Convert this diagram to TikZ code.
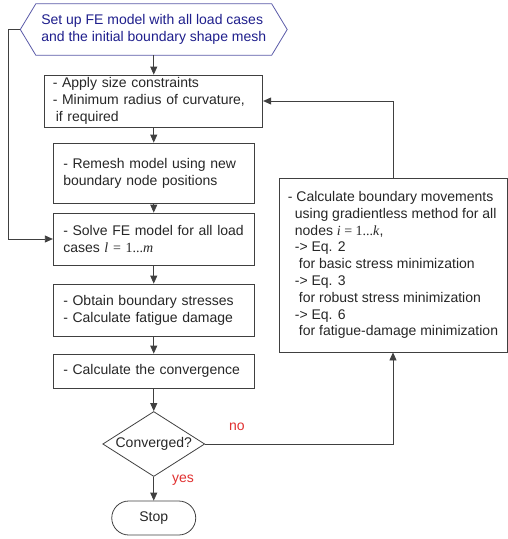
\documentclass[tikz,border=0pt]{standalone}
\usepackage{fontspec}
\setmainfont{Liberation Sans}
\newfontfamily\tnr{Liberation Serif}
\usetikzlibrary{shapes.geometric,arrows.meta}
\definecolor{lc}{HTML}{404040}
\definecolor{hexc}{HTML}{5A5AA8}
\definecolor{hext}{HTML}{1E1E8C}
\definecolor{redc}{HTML}{E03030}
\definecolor{txt}{HTML}{262626}
\begin{document}
\begin{tikzpicture}[x=1pt,y=-1pt,
  font=\fontsize{14}{16.8}\selectfont,
  box/.style={draw=lc, line width=0.8pt, align=left, inner xsep=10pt, inner ysep=0pt, text=txt},
  arr/.style={draw=lc, line width=0.8pt, -{Triangle[length=8pt,width=7pt]}},
  lbl/.style={text=redc, inner sep=0pt}]
\useasboundingbox (0,0) rectangle (508,539);

\node[align=left, text=hext, minimum width=266.5pt, minimum height=51pt, inner sep=0pt] (hex) at (153.75,29.5)
  {Set up FE model with all load cases\\and the initial boundary shape mesh};
\draw[draw=hexc, line width=0.8pt] (hex.west) -- ([xshift=15.5pt]hex.north west) -- ([xshift=-15.5pt]hex.north east)
  -- (hex.east) -- ([xshift=-15.5pt]hex.south east) -- ([xshift=15.5pt]hex.south west) -- cycle;

\node[box, text width=202pt, inner xsep=8pt, minimum height=52pt] (b1) at (153.75,101)
  {- Apply size constraints\\- Minimum radius of curvature,\\\hspace*{3pt}if required};
\node[box, text width=181pt, minimum height=60pt] (b2) at (153.75,173)
  {- Remesh model using new\\boundary node positions};
\node[box, text width=181pt, minimum height=52pt] (b3) at (153.75,239)
  {- Solve FE model for all load\\cases {\tnr\textit{l} = 1...\textit{m}}};
\node[box, text width=181pt, minimum height=52pt] (b4) at (153.75,310)
  {- Obtain boundary stresses\\- Calculate fatigue damage};
\node[box, text width=181pt, minimum height=34pt] (b5) at (153.75,371)
  {- Calculate the convergence};

\node[diamond, draw=lc, line width=0.8pt, aspect=1.57, minimum width=102pt, minimum height=65pt, inner sep=0pt, text=txt] (dia) at (153.75,444) {Converged?};
\node[draw=lc, line width=0.8pt, rounded corners=17pt, minimum width=84pt, minimum height=34pt, text=txt] (stop) at (153.75,518) {Stop};

\node[box, inner xsep=0pt, minimum width=228pt, minimum height=174pt] (rb) at (393,265)
  {- Calculate boundary movements\\
   \hspace*{7pt}using gradientless method for all\\
   \hspace*{7pt}nodes {\tnr\textit{i} = 1...\textit{k}},\\
   \hspace*{7pt}-> Eq. 2\\
   \hspace*{11pt}for basic stress minimization\\
   \hspace*{7pt}-> Eq. 3\\
   \hspace*{11pt}for robust stress minimization\\
   \hspace*{7pt}-> Eq. 6\\
   \hspace*{11pt}for fatigue-damage minimization};

\draw[arr] (hex.south) -- (b1.north);
\draw[arr] (b1.south) -- (b2.north);
\draw[arr] (b2.south) -- (b3.north);
\draw[arr] (b3.south) -- (b4.north);
\draw[arr] (b4.south) -- (b5.north);
\draw[arr] (b5.south) -- (dia.north);
\draw[arr] (dia.south) -- (stop.north);

\coordinate (fb) at (8,29.5);
\draw[arr] (hex.west) -- (fb) |- (b3.west);
\draw[arr] (dia.east) -| (rb.south);
\draw[arr] (rb.north) |- (b1.east);

\node[lbl] (no) at (237,427) {no};
\node[lbl] (yes) at (183,480) {yes};
\end{tikzpicture}
\end{document}
